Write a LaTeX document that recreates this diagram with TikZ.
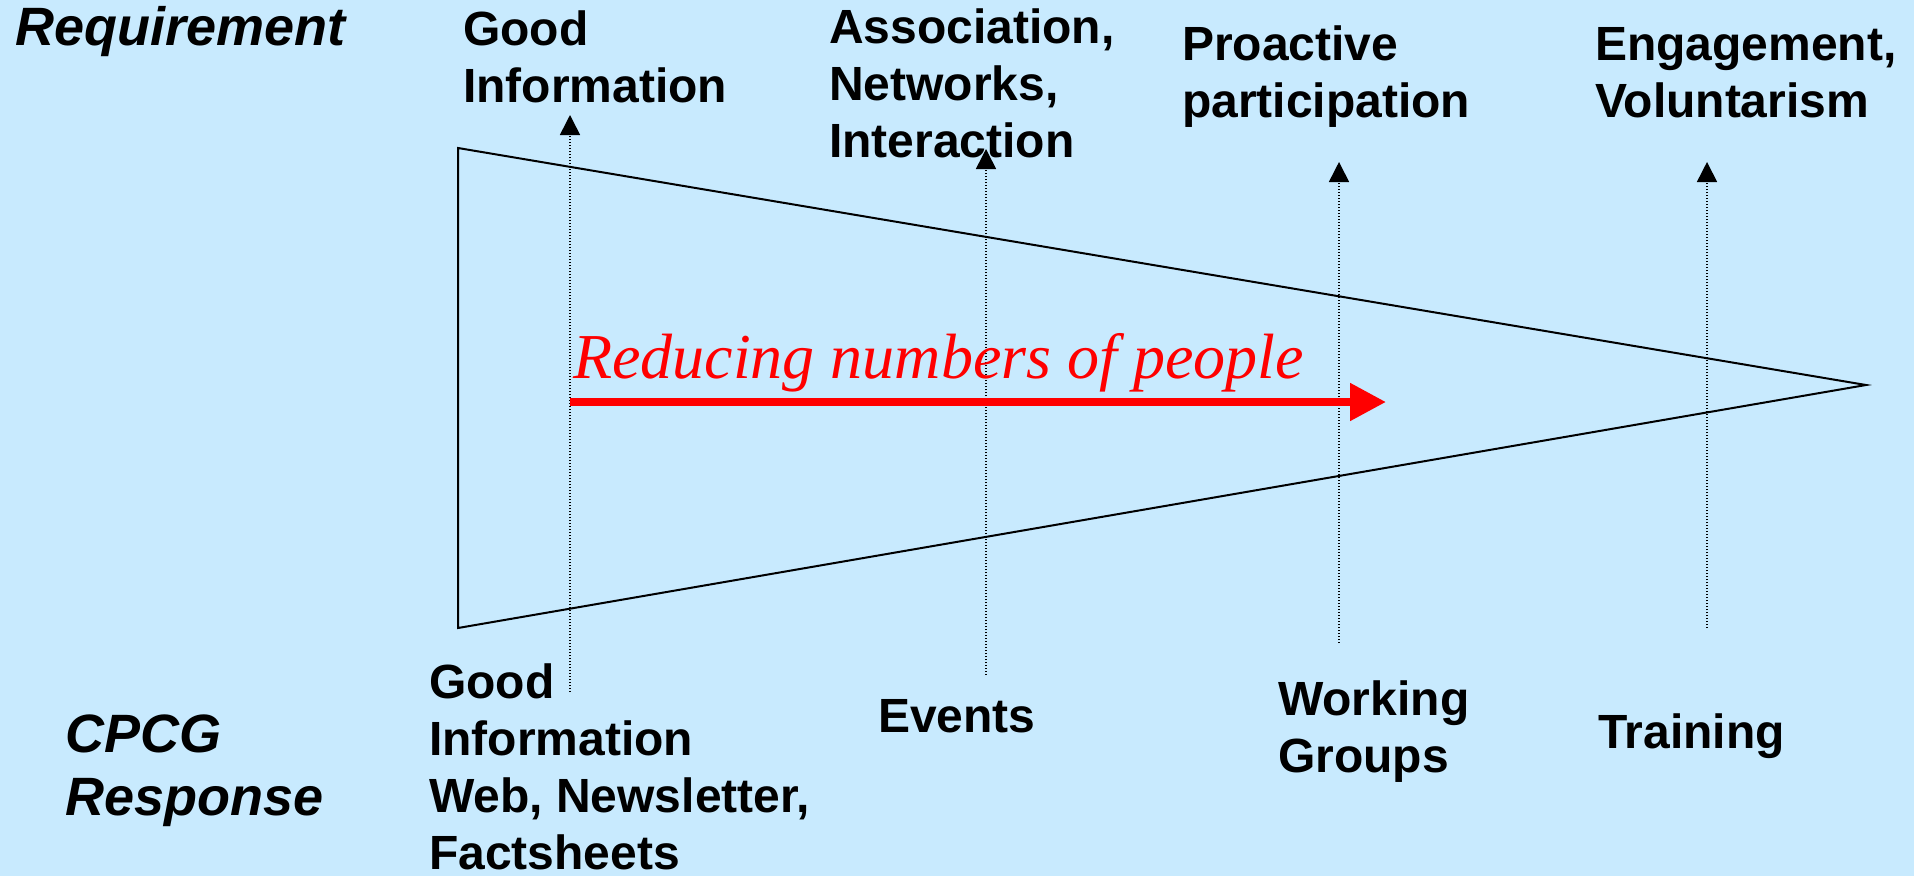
\documentclass[tikz,border=0pt]{standalone}
\usepackage{fontspec}
\setmainfont{Liberation Sans}
\newfontfamily\timesfont{Liberation Serif}
\usetikzlibrary{arrows.meta}
\definecolor{bgblue}{HTML}{C8EAFE}
\newcommand\lblstack[1]{\begin{tabular}[t]{@{}l@{}}#1\end{tabular}}
\begin{document}
\begin{tikzpicture}[x=1pt,y=-1pt,
  lbl/.style={anchor=base west, inner sep=0pt, font=\fontsize{48}{57}\selectfont\bfseries},
  headlbl/.style={anchor=base west, inner sep=0pt, font=\fontsize{54}{63}\selectfont\bfseries\itshape},
  dotarrow/.style={line width=1.6pt, dash pattern=on 1.5pt off 1.5pt, -{Triangle[length=20pt,width=20pt]}},
  funnel/.style={line width=2pt, line join=miter},
  redarrow/.style={red, line width=8pt, -{Triangle[length=36pt,width=36pt]}},
  redlbl/.style={anchor=base west, inner sep=0pt, text=red, font=\timesfont\itshape\fontsize{64}{64}\selectfont}
]
\fill[bgblue] (0,0) rectangle (1914,876);
\useasboundingbox (0,0) rectangle (1914,876);

% labels
\node[headlbl] (req) at (15,45) {Requirement};
\node[lbl] (rq1) at (463,45) {\lblstack{Good\\Information}};
\node[lbl] (rq2) at (829,43) {\lblstack{Association,\\Networks,\\Interaction}};
\node[lbl] (rq3) at (1182,60) {\lblstack{Proactive\\participation}};
\node[lbl] (rq4) at (1595,60) {\lblstack{Engagement,\\Voluntarism}};
\node[headlbl] (resp) at (65,752) {\lblstack{CPCG\\Response}};
\node[lbl] (rs1) at (429,698) {\lblstack{Good\\Information\\Web, Newsletter,\\Factsheets}};
\node[lbl] (rs2) at (878,732) {Events};
\node[lbl] (rs3) at (1278,715) {\lblstack{Working\\Groups}};
\node[lbl] (rs4) at (1598,748) {Training};

% funnel
\coordinate (ftl) at (458,148);
\coordinate (fbl) at (458,628);
\coordinate (ftip) at (1866,385);
\draw[funnel] (ftl) -- (ftip) -- (fbl) -- cycle;

% dotted arrows
\coordinate (a1b) at (570,692);  \coordinate (a1t) at (570,115);
\coordinate (a2b) at (986,675);  \coordinate (a2t) at (986,149);
\coordinate (a3b) at (1339,643); \coordinate (a3t) at (1339,162);
\coordinate (a4b) at (1707,628); \coordinate (a4t) at (1707,162);
\draw[dotarrow] (a1b) -- (a1t);
\draw[dotarrow] (a2b) -- (a2t);
\draw[dotarrow] (a3b) -- (a3t);
\draw[dotarrow] (a4b) -- (a4t);

% red arrow
\node[redlbl] (rtext) at (573,378) {Reducing numbers of people};
\coordinate (ras) at (570,402);
\coordinate (rae) at (1386,402);
\draw[redarrow] (ras) -- (rae);
\end{tikzpicture}
\end{document}
